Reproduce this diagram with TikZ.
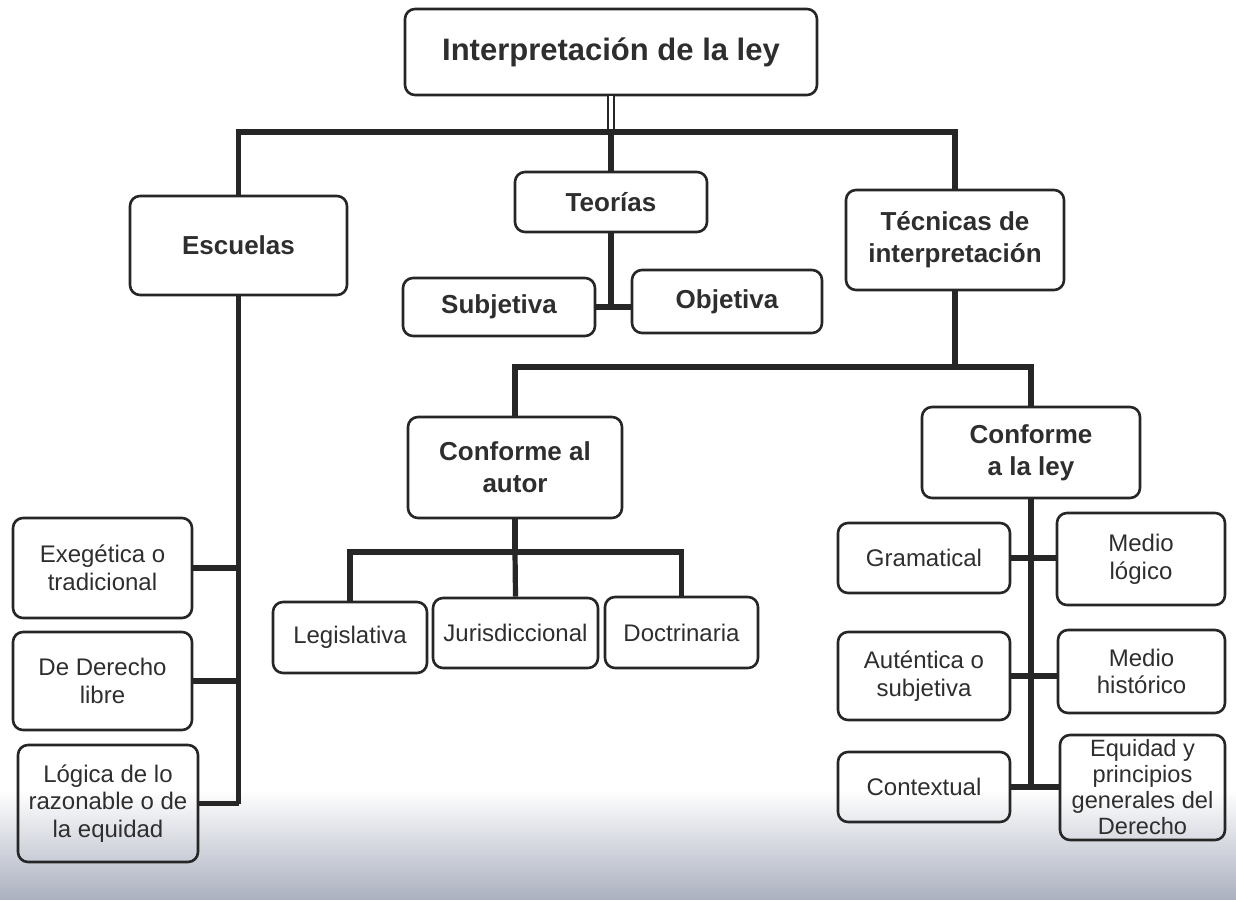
\documentclass[tikz,border=0pt]{standalone}
\usepackage{fontspec}
\setmainfont{Liberation Sans}
\begin{document}
\begin{tikzpicture}[x=0.5pt,y=-0.5pt,
  box/.style={draw=black!85, line width=1.3pt, rounded corners=5pt, align=center, inner sep=1pt, text=black!82},
  hd/.style={box, font=\bfseries\fontsize{13}{16}\selectfont},
  tx/.style={box, font=\fontsize{12}{13.8}\selectfont},
  conn/.style={draw=black!85, line width=2.6pt},
  dbl/.style={draw=black!85, double=white, double distance=2.2pt, line width=1.1pt}]
\useasboundingbox (0,0) rectangle (1236,899);
\shade[top color=white, bottom color={rgb,255:red,172;green,177;blue,192}] (0,790) rectangle (1236,899);
% level 0
\node[box, font=\bfseries\fontsize{15.5}{18}\selectfont, minimum width=206pt, minimum height=43pt] (title) at (611,52) {Interpretación de la ley};
% level 1
\node[hd, minimum width=108.5pt, minimum height=49.5pt] (escuelas) at (238.5,245.5) {Escuelas};
\node[hd, minimum width=96pt, minimum height=30pt] (teorias) at (611,202) {Teorías};
\node[hd, minimum width=109pt, minimum height=50pt] (tecnicas) at (955,240) {Técnicas de\\interpretación};
% teorias
\node[hd, minimum width=96pt, minimum height=29pt] (subjetiva) at (499,307) {Subjetiva};
\node[hd, minimum width=95pt, minimum height=31.5pt] (objetiva) at (727,301.5) {Objetiva};
% tecnicas
\node[hd, minimum width=107pt, minimum height=50.5pt] (autor) at (515,467.5) {Conforme al\\autor};
\node[hd, minimum width=109pt, minimum height=45.5pt] (ley) at (1031,452.5) {Conforme\\a la ley};
% autor
\node[tx, minimum width=77pt, minimum height=35.5pt] (legislativa) at (350,637.5) {Legislativa};
\node[tx, minimum width=82.5pt, minimum height=35pt] (jurisdiccional) at (515.5,633) {Jurisdiccional};
\node[tx, minimum width=76.5pt, minimum height=35.5pt] (doctrinaria) at (681.5,632.5) {Doctrinaria};
% escuelas
\node[tx, minimum width=89.5pt, minimum height=50pt] (exegetica) at (102.5,568) {Exegética o\\tradicional};
\node[tx, minimum width=89.5pt, minimum height=49pt] (libre) at (102.5,681) {De Derecho\\libre};
\node[tx, minimum width=90pt, minimum height=58.5pt] (logica) at (108,803.5) {Lógica de lo\\razonable o de\\la equidad};
% ley
\node[tx, minimum width=86pt, minimum height=35pt] (gramatical) at (924,558) {Gramatical};
\node[tx, minimum width=84pt, minimum height=46pt] (mlogico) at (1141,559) {Medio\\lógico};
\node[tx, minimum width=86pt, minimum height=44pt] (autentica) at (924,676) {Auténtica o\\subjetiva};
\node[tx, minimum width=83.5pt, minimum height=41.5pt] (mhistorico) at (1141.5,671.5) {Medio\\histórico};
\node[tx, minimum width=86pt, minimum height=35pt] (contextual) at (924,787) {Contextual};
\node[tx, minimum width=82.5pt, minimum height=52.5pt, inner sep=0pt, font=\fontsize{11.8}{13}\selectfont] (equidad) at (1142.5,787.5) {Equidad y\\principios\\generales del\\Derecho};
% connectors
\coordinate (bar) at (611,132);
\draw[dbl] (title.south) -- (bar);
\draw[conn] (escuelas.north) |- (bar) -| (tecnicas.north);
\draw[conn] (bar) -- (teorias.north);
\draw[conn] (teorias.south) -- (teorias.south |- subjetiva.east);
\draw[conn] (subjetiva.east) -- (objetiva.west |- subjetiva.east);
% escuelas branch
\draw[conn] (escuelas.south) -- (escuelas.south |- logica.east);
\draw[conn] (exegetica.east) -- (exegetica.east -| escuelas.south);
\draw[conn] (libre.east) -- (libre.east -| escuelas.south);
\draw[conn] (logica.east) -- (logica.east -| escuelas.south);
% tecnicas branch
\coordinate (tb) at (955,367);
\draw[conn] (tecnicas.south) -- (tb);
\draw[conn] (autor.north) |- (tb) -| (ley.north);
% autor branch
\coordinate (ab) at (515,552);
\draw[conn] (autor.south) -- (ab);
\draw[conn] (legislativa.north) |- (ab) -| (doctrinaria.north);
\draw[conn] (ab) -- (jurisdiccional.north);
% ley branch
\draw[conn] (ley.south) -- (ley.south |- contextual.east);
\draw[conn] (gramatical.east) -- (mlogico.west |- gramatical.east);
\draw[conn] (autentica.east) -- (mhistorico.west |- autentica.east);
\draw[conn] (contextual.east) -- (equidad.west |- contextual.east);
\end{tikzpicture}
\end{document}
